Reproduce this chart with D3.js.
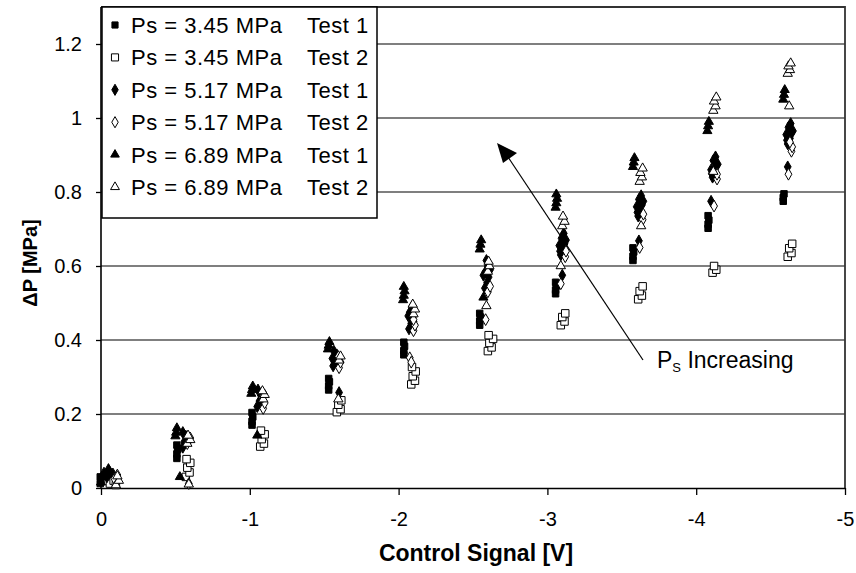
<!DOCTYPE html>
<html>
<head>
<meta charset="utf-8">
<script src="https://cdn.jsdelivr.net/npm/d3@7"></script>
<style>
  html, body { margin: 0; padding: 0; background: #fff; }
  svg { display: block; font-family: Arial, "Liberation Sans", sans-serif; }
</style>
</head>
<body>
<svg id="chart" width="856" height="573"></svg>
<script>
// ---------- DATA ----------
const xTicks = [0, -1, -2, -3, -4, -5];
const yTicks = [0, 0.2, 0.4, 0.6, 0.8, 1, 1.2];
const xTickLabels = ["0", "-1", "-2", "-3", "-4", "-5"];
const yTickLabels = ["0", "0.2", "0.4", "0.6", "0.8", "1", "1.2"];

const seriesNames = [
  ["Ps = 3.45 MPa", "Test 1"],
  ["Ps = 3.45 MPa", "Test 2"],
  ["Ps = 5.17 MPa", "Test 1"],
  ["Ps = 5.17 MPa", "Test 2"],
  ["Ps = 6.89 MPa", "Test 1"],
  ["Ps = 6.89 MPa", "Test 2"]
];

// Ps = 3.45 MPa, Test 1 (filled squares)  [control signal V, dP MPa]
const ps345t1 = [
  [0.005,0.012],[0.0,0.022],[0.005,0.03],
  [-0.51,0.08],[-0.51,0.092],[-0.515,0.104],[-0.51,0.116],
  [-1.015,0.17],[-1.015,0.18],[-1.02,0.192],[-1.015,0.204],
  [-1.53,0.265],[-1.53,0.276],[-1.535,0.287],[-1.53,0.296],
  [-2.035,0.36],[-2.035,0.371],[-2.04,0.383],[-2.035,0.394],
  [-2.545,0.44],[-2.545,0.451],[-2.55,0.462],[-2.545,0.472],
  [-3.055,0.525],[-3.055,0.535],[-3.06,0.546],[-3.055,0.556],
  [-3.575,0.615],[-3.575,0.626],[-3.58,0.638],[-3.575,0.649],
  [-4.08,0.702],[-4.08,0.713],[-4.085,0.724],[-4.08,0.736],
  [-4.585,0.775],[-4.585,0.785],[-4.59,0.795]
];
// Ps = 3.45 MPa, Test 2 (open squares)
const ps345t2 = [
  [-0.06,0.012],[-0.085,0.02],[-0.1,0.008],
  [-0.57,0.03],[-0.595,0.042],[-0.58,0.055],[-0.6,0.068],[-0.575,0.078],
  [-1.07,0.112],[-1.095,0.12],[-1.08,0.132],[-1.1,0.145],[-1.075,0.155],
  [-1.585,0.205],[-1.61,0.213],[-1.595,0.225],[-1.615,0.237],
  [-2.085,0.28],[-2.11,0.29],[-2.095,0.302],[-2.115,0.315],[-2.09,0.327],
  [-2.6,0.37],[-2.625,0.38],[-2.61,0.392],[-2.635,0.403],[-2.605,0.413],
  [-3.09,0.44],[-3.115,0.45],[-3.1,0.462],[-3.12,0.472],
  [-3.61,0.51],[-3.635,0.52],[-3.62,0.532],[-3.64,0.545],
  [-4.11,0.582],[-4.135,0.59],[-4.12,0.6],
  [-4.615,0.625],[-4.64,0.635],[-4.625,0.648],[-4.645,0.66]
];
// Ps = 5.17 MPa, Test 1 (filled diamonds)
const ps517t1 = [
  [-0.04,0.03],[-0.06,0.042],[-0.08,0.038],[-0.05,0.05],
  [-0.55,0.11],[-0.56,0.125],[-0.57,0.14],[-0.55,0.15],[-0.58,0.13],
  [-1.05,0.22],[-1.065,0.235],[-1.075,0.25],[-1.055,0.265],[-1.08,0.24],
  [-1.56,0.33],[-1.575,0.345],[-1.585,0.36],[-1.565,0.37],[-1.6,0.258],
  [-1.555,0.35],[-1.59,0.338],
  [-2.07,0.43],[-2.085,0.445],[-2.095,0.46],[-2.075,0.475],[-2.09,0.49],
  [-2.1,0.45],[-2.065,0.465],
  [-2.58,0.54],[-2.595,0.555],[-2.605,0.57],[-2.585,0.585],[-2.6,0.6],[-2.59,0.615],
  [-2.57,0.575],[-2.615,0.59],
  [-3.09,0.63],[-3.105,0.645],[-3.115,0.66],[-3.095,0.675],[-3.11,0.688],[-3.1,0.575],
  [-3.08,0.655],[-3.125,0.67],[-3.085,0.64],
  [-3.61,0.735],[-3.625,0.75],[-3.635,0.765],[-3.615,0.78],[-3.63,0.79],[-3.615,0.668],
  [-3.6,0.76],[-3.645,0.775],[-3.605,0.745],
  [-4.11,0.84],[-4.125,0.855],[-4.135,0.87],[-4.115,0.885],[-4.13,0.895],[-4.1,0.775],
  [-4.1,0.86],[-4.145,0.875],[-4.105,0.85],
  [-4.615,0.93],[-4.63,0.945],[-4.64,0.96],[-4.62,0.975],[-4.635,0.985],[-4.615,0.868],
  [-4.605,0.955],[-4.65,0.965],[-4.61,0.94]
];
// Ps = 5.17 MPa, Test 2 (open diamonds)
const ps517t2 = [
  [-0.09,0.025],[-0.11,0.035],
  [-0.59,0.012],[-0.58,0.12],[-0.6,0.135],
  [-1.09,0.215],[-1.1,0.23],[-1.085,0.245],
  [-1.6,0.325],[-1.61,0.34],[-1.595,0.355],
  [-2.1,0.425],[-2.11,0.44],[-2.1,0.455],[-2.075,0.352],[-2.085,0.34],
  [-2.6,0.53],[-2.615,0.545],[-2.585,0.455],
  [-3.12,0.625],[-3.125,0.64],[-3.09,0.552],
  [-3.64,0.725],[-3.645,0.74],[-3.62,0.65],
  [-4.14,0.835],[-4.14,0.848],[-4.12,0.762],
  [-4.64,0.91],[-4.645,0.922],[-4.63,0.935],[-4.62,0.848]
];
// Ps = 6.89 MPa, Test 1 (filled triangles)
const ps689t1 = [
  [0.0,0.015],[-0.01,0.03],[-0.02,0.042],
  [-0.5,0.14],[-0.505,0.15],[-0.51,0.162],[-0.53,0.03],
  [-1.01,0.255],[-1.015,0.265],[-1.02,0.275],[-1.05,0.142],
  [-1.525,0.375],[-1.53,0.385],[-1.535,0.395],
  [-2.03,0.508],[-2.035,0.52],[-2.04,0.532],[-2.035,0.544],
  [-2.545,0.645],[-2.55,0.658],[-2.555,0.67],[-2.57,0.515],
  [-3.055,0.758],[-3.06,0.77],[-3.065,0.782],[-3.06,0.794],
  [-3.575,0.868],[-3.58,0.88],[-3.585,0.892],
  [-4.075,0.965],[-4.08,0.978],[-4.085,0.99],
  [-4.585,1.05],[-4.59,1.063],[-4.595,1.076]
];
// Ps = 6.89 MPa, Test 2 (open triangles)
const ps689t2 = [
  [-0.1,0.008],[-0.12,0.02],[-0.11,0.032],
  [-0.59,0.01],[-0.58,0.12],[-0.6,0.13],[-0.585,0.142],
  [-1.09,0.24],[-1.1,0.252],[-1.085,0.262],
  [-1.6,0.345],[-1.61,0.356],[-1.595,0.24],
  [-2.1,0.47],[-2.11,0.483],[-2.095,0.496],
  [-2.6,0.585],[-2.61,0.6],[-2.605,0.612],[-2.59,0.492],
  [-3.1,0.708],[-3.115,0.72],[-3.105,0.734],[-3.09,0.6],
  [-3.62,0.828],[-3.635,0.84],[-3.625,0.852],[-3.64,0.864],[-3.63,0.708],
  [-4.115,1.02],[-4.13,1.032],[-4.12,1.045],[-4.135,1.056],[-4.115,0.855],
  [-4.615,1.12],[-4.63,1.13],[-4.62,1.14],[-4.635,1.148],[-4.625,1.032]
];

// ---------- LAYOUT ----------
const svg = d3.select("#chart");
const plot = { left: 101, right: 845, top: 7, bottom: 488 };
const x = d3.scaleLinear().domain([0, -5]).range([plot.left, plot.right]);
const y = d3.scaleLinear().domain([0, 1.3]).range([plot.bottom, plot.top]);
const FONT = "Arial, 'Liberation Sans', sans-serif";

// gridlines
svg.append("g").selectAll("line")
  .data(yTicks.filter(d => d > 0))
  .join("line")
  .attr("x1", plot.left).attr("x2", plot.right)
  .attr("y1", d => y(d)).attr("y2", d => y(d))
  .attr("stroke", "#555").attr("stroke-width", 1.6);

// plot border (top, right)
svg.append("path")
  .attr("d", `M${plot.left},${plot.top}H${plot.right}V${plot.bottom}`)
  .attr("fill", "none").attr("stroke", "#333").attr("stroke-width", 1.8);

// axes
const xAxis = d3.axisBottom(x).tickValues(xTicks)
  .tickFormat((d, i) => xTickLabels[i]).tickSize(7).tickSizeOuter(0).tickPadding(17);
const gx = svg.append("g").attr("transform", `translate(0,${plot.bottom})`).call(xAxis);
gx.select(".domain").attr("stroke", "#000").attr("stroke-width", 1.6);
gx.selectAll(".tick line").attr("stroke", "#000").attr("stroke-width", 1.3);
gx.selectAll("text").attr("font-size", 20).attr("font-family", FONT).attr("fill", "#000");

const yAxis = d3.axisLeft(y).tickValues(yTicks)
  .tickFormat((d, i) => yTickLabels[i]).tickSize(5).tickSizeOuter(0).tickPadding(14);
const gy = svg.append("g").attr("transform", `translate(${plot.left},0)`).call(yAxis);
gy.select(".domain").attr("stroke", "#000").attr("stroke-width", 1.6)
  .attr("d", `M0,${plot.bottom}V${plot.top}`);
gy.selectAll(".tick line").attr("stroke", "#000").attr("stroke-width", 1.3);
gy.selectAll("text").attr("font-size", 20).attr("font-family", FONT).attr("fill", "#000");

// axis titles
svg.append("text")
  .attr("x", 476).attr("y", 561)
  .attr("text-anchor", "middle").attr("font-weight", "bold").attr("font-size", 23)
  .text("Control Signal [V]");
svg.append("text")
  .attr("transform", `translate(37,263) rotate(-90)`)
  .attr("text-anchor", "middle").attr("font-weight", "bold").attr("font-size", 20)
  .text("ΔP [MPa]");

// ---------- MARKERS ----------
const markerDefs = [
  { type: d3.symbolSquare,   size: 42, fill: "#000" },
  { type: d3.symbolSquare,   size: 56, fill: "#fff" },
  { type: d3.symbolDiamond,  size: 40, fill: "#000" },
  { type: d3.symbolDiamond,  size: 40, fill: "#fff" },
  { type: d3.symbolTriangle, size: 36, fill: "#000" },
  { type: d3.symbolTriangle, size: 38, fill: "#fff" }
];
const allSeries = [ps345t1, ps345t2, ps517t1, ps517t2, ps689t1, ps689t2];

allSeries.forEach((data, i) => {
  const m = markerDefs[i];
  svg.append("g").selectAll("path")
    .data(data)
    .join("path")
    .attr("transform", d => `translate(${x(d[0])},${y(d[1])})`)
    .attr("d", d3.symbol().type(m.type).size(m.size))
    .attr("fill", m.fill)
    .attr("stroke", "#000")
    .attr("stroke-width", 1);
});

// ---------- LEGEND ----------
const leg = svg.append("g");
leg.append("rect")
  .attr("x", 102).attr("y", 7).attr("width", 275).attr("height", 211)
  .attr("fill", "#fff").attr("stroke", "#000").attr("stroke-width", 1.5);
seriesNames.forEach((nm, i) => {
  const cy = 25 + i * 32.4;
  const m = markerDefs[i];
  leg.append("path")
    .attr("transform", `translate(115,${cy})`)
    .attr("d", d3.symbol().type(m.type).size(m.size * 0.9))
    .attr("fill", m.fill).attr("stroke", "#000").attr("stroke-width", 1);
  leg.append("text").attr("x", 131).attr("y", cy + 8)
    .attr("font-size", 22).attr("letter-spacing", 0.5).text(nm[0]);
  leg.append("text").attr("x", 307).attr("y", cy + 8)
    .attr("font-size", 22).attr("letter-spacing", 0.5).text(nm[1]);
});

// ---------- ANNOTATION ----------
svg.append("line")
  .attr("x1", 643).attr("y1", 360).attr("x2", 508).attr("y2", 157)
  .attr("stroke", "#000").attr("stroke-width", 1.2);
svg.append("polygon")
  .attr("points", "497,143 517,153 503,163")
  .attr("fill", "#000");
const ann = svg.append("text").attr("x", 657).attr("y", 368).attr("font-size", 23);
ann.append("tspan").text("P");
ann.append("tspan").attr("font-size", 13).attr("dy", 4).text("S");
ann.append("tspan").attr("dy", -4).text(" Increasing");
</script>
</body>
</html>
